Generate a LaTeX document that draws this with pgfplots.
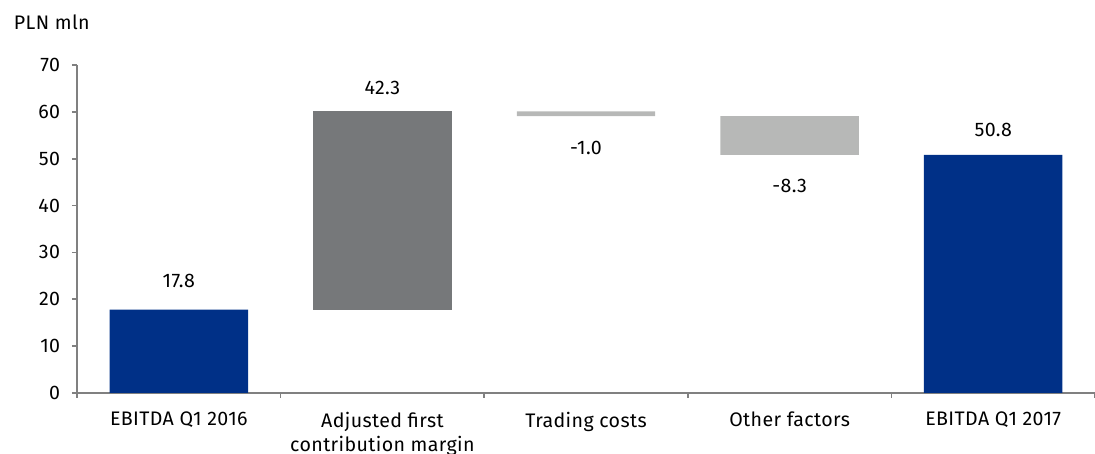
\documentclass[border=0pt]{standalone}
\usepackage{pgfplots}
\pgfplotsset{compat=1.18}
\usepackage{fontspec}
\setmainfont{Fira Sans}[LetterSpace=2]
\definecolor{cblue}{RGB}{0,48,135}
\definecolor{cdark}{RGB}{118,120,122}
\definecolor{clight}{RGB}{183,184,183}
\definecolor{caxis}{RGB}{128,128,128}
\begin{document}
\fontsize{9.8}{12}\selectfont
\begin{tikzpicture}
\useasboundingbox (-38.5pt,-30.5pt) rectangle (509pt,196.5pt);
\begin{axis}[
  at={(0,0)}, anchor=south west,
  scale only axis, width=509pt, height=164pt,
  xmin=-0.5, xmax=4.5, ymin=0, ymax=70,
  ybar stacked, bar width=0.68,
  axis lines=left, axis line style={-, draw=caxis, line width=0.8pt},
  xtick={0,1,2,3,4},
  xticklabels={EBITDA Q1 2016,{Adjusted first\\contribution margin},Trading costs,Other factors,EBITDA Q1 2017},
  xticklabel style={align=center, anchor=north, yshift=-3.5pt, font=\fontsize{9.8}{12.2}\selectfont},
  x tick style={draw=none},
  minor xtick={-0.5,0.5,1.5,2.5,3.5,4.5},
  minor x tick style={draw=caxis, line width=0.8pt},
  ytick={0,10,...,70},
  y tick style={draw=caxis, line width=0.8pt},
  yticklabel style={font=\fontsize{9.8}{12}\selectfont, xshift=-2.5pt},
  tick align=outside, major tick length=2.5pt, minor tick length=2.5pt,
  /pgf/number format/assume math mode=true,
  clip=false,
]
\addplot[draw=none, fill=none] coordinates {(0,0) (1,17.8) (2,59.1) (3,50.8) (4,0)};
\addplot[draw=none, fill=cblue] coordinates {(0,17.8) (1,0) (2,0) (3,0) (4,50.8)};
\addplot[draw=none, fill=cdark] coordinates {(0,0) (1,42.3) (2,0) (3,0) (4,0)};
\addplot[draw=none, fill=clight] coordinates {(0,0) (1,0) (2,1.0) (3,8.3) (4,0)};
\node at (axis cs:0,23.9) {17.8};
\node at (axis cs:1,65.0) {42.3};
\node at (axis cs:2,52.2) {-1.0};
\node at (axis cs:3,44.1) {-8.3};
\node at (axis cs:4,56.1) {50.8};
\node[anchor=west] at (rel axis cs:0,1) [xshift=-35pt, yshift=21.5pt] {PLN mln};
\end{axis}
\end{tikzpicture}
\end{document}
